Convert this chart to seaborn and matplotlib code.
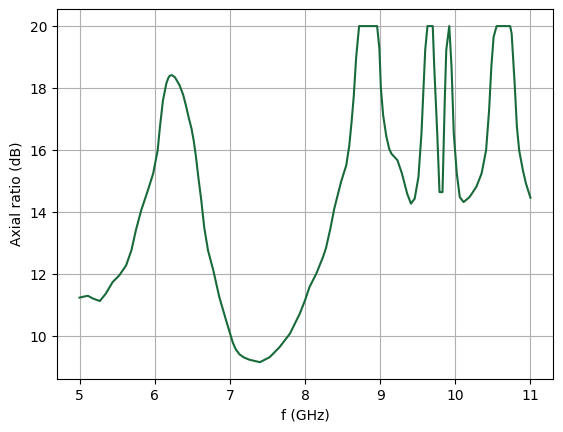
import matplotlib
matplotlib.use('Agg')
import matplotlib.pyplot as plt
import seaborn as sns

# axial ratio vs frequency
freq = [5.00, 5.05, 5.11, 5.18, 5.27, 5.35, 5.44, 5.53, 5.62, 5.69,
        5.75, 5.82, 5.91, 5.98, 6.04, 6.07, 6.11, 6.155, 6.18, 6.20,
        6.23, 6.27, 6.33, 6.38, 6.42, 6.45, 6.49, 6.52, 6.55, 6.58,
        6.62, 6.66, 6.71, 6.78, 6.86, 6.95, 7.04, 7.08, 7.13, 7.19,
        7.26, 7.40, 7.53, 7.66, 7.80, 7.93, 8.00, 8.06, 8.15, 8.24,
        8.28, 8.34, 8.39, 8.48, 8.55, 8.59, 8.62, 8.65, 8.68, 8.72,
        8.96, 8.99, 9.01, 9.04, 9.08, 9.12, 9.15, 9.23, 9.29, 9.36,
        9.41, 9.46, 9.51, 9.55, 9.60, 9.63, 9.70, 9.72, 9.76, 9.79,
        9.83, 9.86, 9.88, 9.92, 9.95, 9.98, 10.02, 10.06, 10.11, 10.19,
        10.28, 10.35, 10.41, 10.45, 10.48, 10.51, 10.55, 10.73, 10.75, 10.79,
        10.82, 10.85, 10.90, 10.94, 11.00]
axial_ratio = [11.25, 11.28, 11.31, 11.22, 11.14, 11.38, 11.75, 11.97, 12.29, 12.77,
               13.42, 14.06, 14.71, 15.25, 16.00, 16.75, 17.60, 18.15, 18.32, 18.40,
               18.42, 18.35, 18.10, 17.78, 17.40, 17.08, 16.70, 16.30, 15.78, 15.15,
               14.39, 13.50, 12.77, 12.13, 11.27, 10.52, 9.80, 9.58, 9.42, 9.32,
               9.25, 9.17, 9.33, 9.65, 10.09, 10.73, 11.16, 11.59, 12.02, 12.56,
               12.85, 13.50, 14.12, 14.98, 15.52, 16.16, 16.91, 17.77, 18.96, 20.00,
               20.00, 19.28, 18.00, 17.13, 16.48, 16.05, 15.89, 15.68, 15.25, 14.60,
               14.28, 14.44, 15.14, 16.54, 19.23, 20.00, 20.00, 18.69, 16.54, 14.65,
               14.65, 17.61, 19.23, 20.00, 18.69, 16.54, 15.25, 14.49, 14.33, 14.49,
               14.82, 15.25, 16.00, 17.29, 18.69, 19.65, 20.00, 20.00, 19.76, 18.15,
               16.75, 16.00, 15.35, 14.93, 14.47]

fig, ax = plt.subplots(figsize=(5.63, 4.32), dpi=100)
fig.subplots_adjust(left=0.1012, right=0.9822, bottom=0.1227, top=0.9785)

sns.lineplot(x=freq, y=axial_ratio, color='#196a3a', linewidth=1.5, ax=ax)
ax.grid(True)
ax.set(xlabel='f (GHz)', ylabel='Axial ratio (dB)')

fig.savefig('out.png')
